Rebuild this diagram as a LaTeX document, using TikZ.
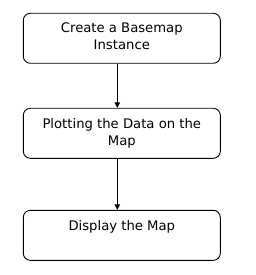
\documentclass[tikz,border=0pt]{standalone}
\usepackage{fontspec}
\setmainfont{DejaVu Sans}
\usetikzlibrary{arrows.meta}
\begin{document}
\begin{tikzpicture}[x=1pt,y=-1pt,
  stepbox/.style={draw=black, line width=0.9pt, rounded corners=7pt, minimum width=197pt, minimum height=50pt, inner sep=0pt},
  boxtext/.style={font=\fontsize{13.2}{17}\selectfont, align=center, anchor=north, inner sep=0pt},
  flow/.style={line width=0.9pt, -{Triangle[length=5.5pt,width=5.5pt]}}]
\useasboundingbox (0,0) rectangle (256,275);
\node[stepbox] (b1) at (121.8,38.3) {};
\node[stepbox] (b2) at (121.8,133.3) {};
\node[stepbox] (b3) at (121.8,235.3) {};
\node[boxtext] (t1) at ([yshift=-10pt]b1.north) {Create a Basemap\\Instance};
\node[boxtext] (t2) at ([yshift=-10pt]b2.north) {Plotting the Data on the\\Map};
\node[boxtext] (t3) at ([yshift=-10pt]b3.north) {Display the Map};
\draw[flow] ([xshift=-4.5pt]b1.south) -- ([xshift=-4.5pt]b2.north);
\draw[flow] ([xshift=-4.5pt]b2.south) -- ([xshift=-4.5pt]b3.north);
\end{tikzpicture}
\end{document}
